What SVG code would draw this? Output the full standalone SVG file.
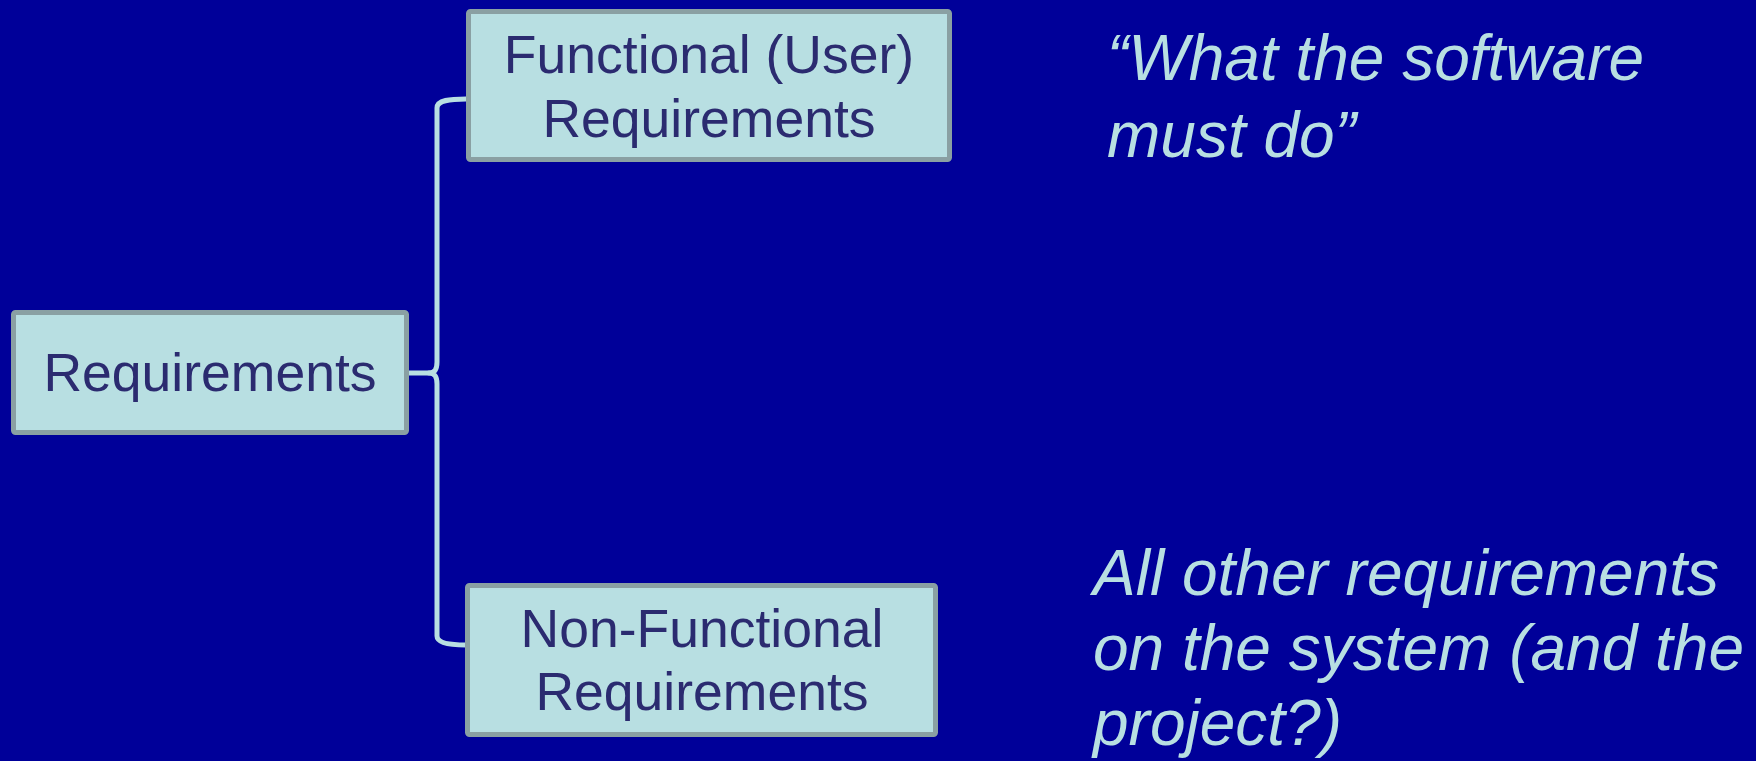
<svg xmlns="http://www.w3.org/2000/svg" width="1756" height="761" viewBox="0 0 1756 761">
  <style>
    .box { fill: #B8DFE2; stroke: #8AA0A3; stroke-width: 5; }
    .lbl { font-family: "Liberation Sans", Arial, sans-serif; font-size: 53.5px; fill: #2B2B70; text-anchor: middle; }
    .note { font-family: "Liberation Sans", Arial, sans-serif; font-size: 64px; font-style: italic; fill: #B8DFE2; }
    .conn { fill: none; stroke: #B8DFE2; stroke-width: 5; stroke-linecap: round; stroke-linejoin: round; }
  </style>
  <rect x="0" y="0" width="1756" height="761" fill="#000099"/>
  <g id="connectors">
    <path class="conn" d="M 466,99 C 450,99 437,100 437,108 L 437,362 C 437,369 435,373 429,373 C 435,373 437,377 437,384 L 437,636 C 437,643 450,645 466,645"/>
    <path class="conn" d="M 409,373 L 429,373"/>
  </g>
  <g id="node-requirements">
    <rect class="box" x="13.5" y="312.5" width="393" height="120" rx="2"/>
    <text class="lbl" x="210" y="391">Requirements</text>
  </g>
  <g id="node-functional">
    <rect class="box" x="468.5" y="11.5" width="481" height="148" rx="2"/>
    <text class="lbl" x="709" y="73">Functional (User)</text>
    <text class="lbl" x="709" y="137">Requirements</text>
  </g>
  <g id="node-nonfunctional">
    <rect class="box" x="467.5" y="585.5" width="468" height="149" rx="2"/>
    <text class="lbl" x="702" y="647">Non-Functional</text>
    <text class="lbl" x="702" y="710">Requirements</text>
  </g>
  <g id="note-functional">
    <text class="note" x="1107" y="80">“What the software</text>
    <text class="note" x="1107" y="157">must do”</text>
  </g>
  <g id="note-nonfunctional">
    <text class="note" x="1093" y="595">All other requirements</text>
    <text class="note" x="1093" y="670">on the system (and the</text>
    <text class="note" x="1093" y="745">project?)</text>
  </g>
</svg>
